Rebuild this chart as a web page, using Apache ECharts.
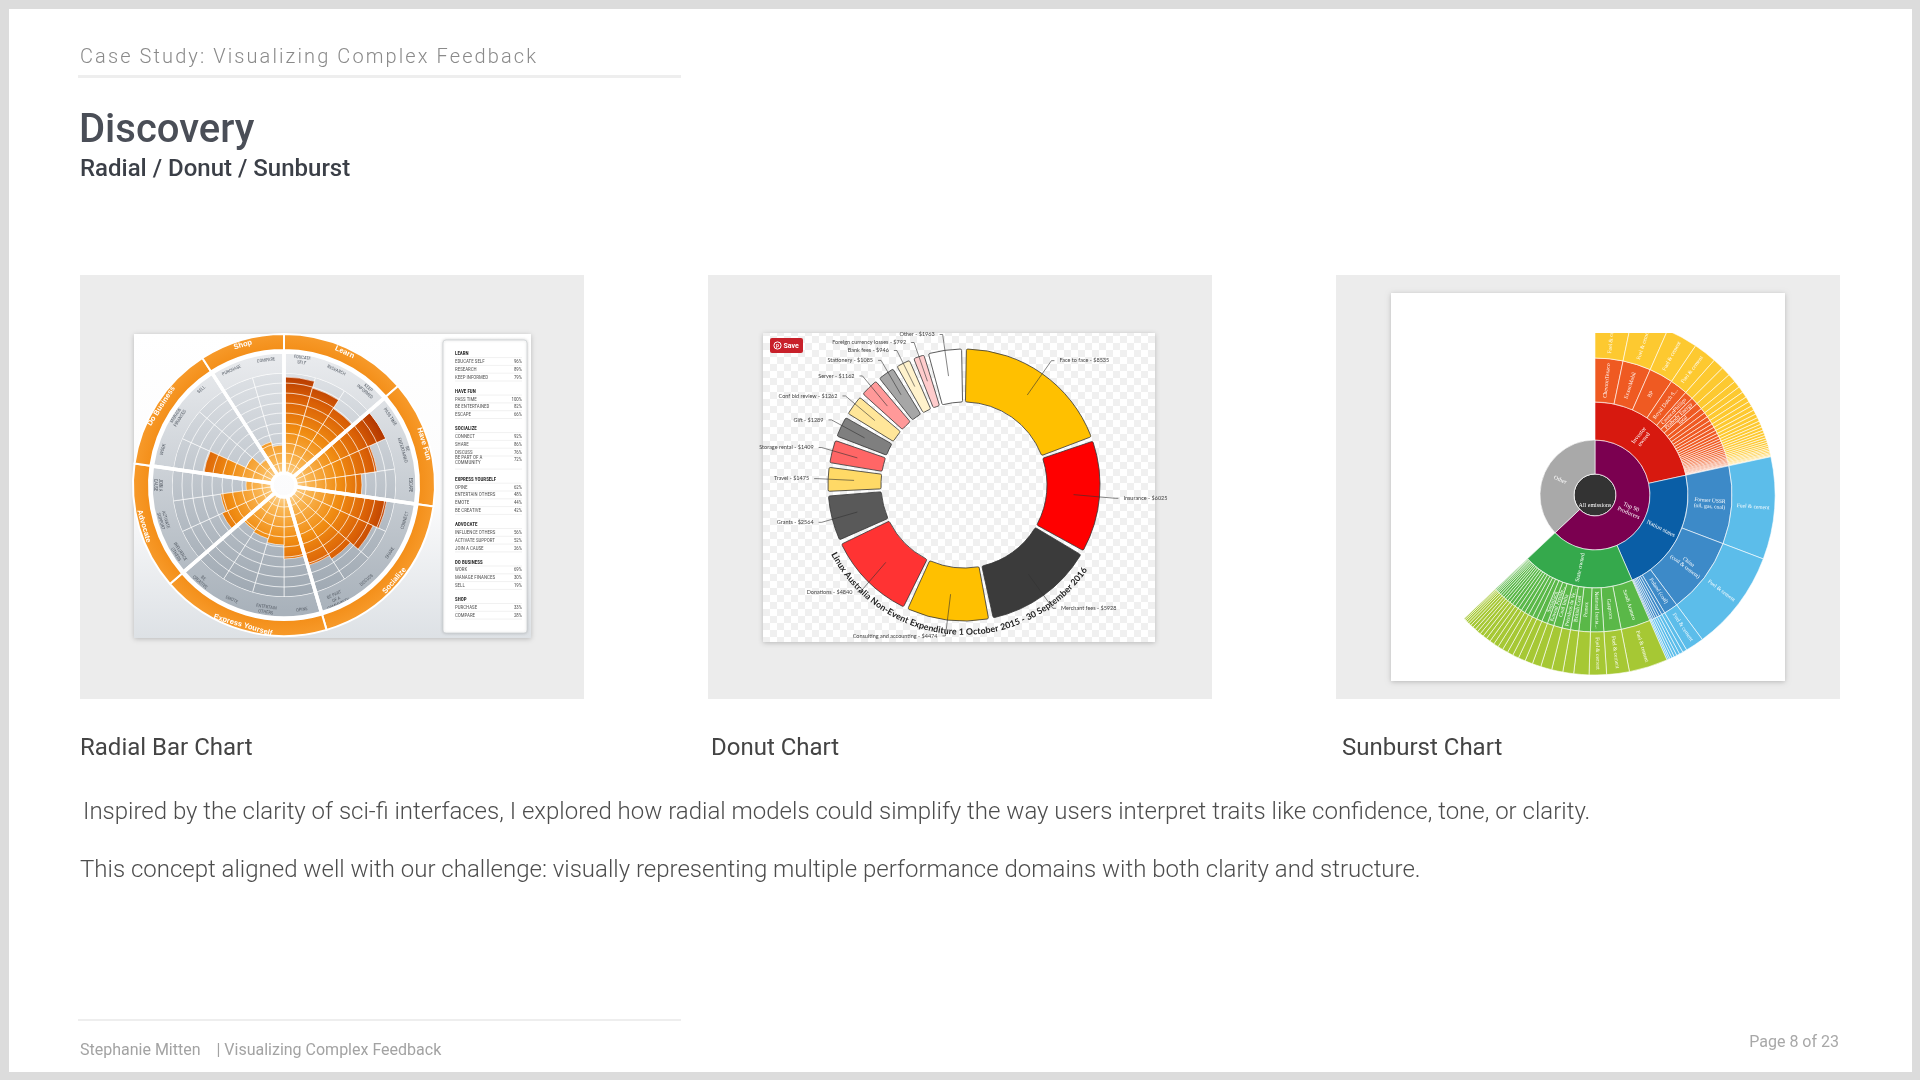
<!DOCTYPE html>
<html>
<head>
<meta charset="utf-8">
<title>Discovery - Radial / Donut / Sunburst</title>
<script src="https://cdn.jsdelivr.net/npm/echarts@6/dist/echarts.min.js"></script>
<style>
  html, body { margin: 0; padding: 0; width: 1920px; height: 1080px; background: #dcdcdc; overflow: hidden; font-family: Roboto, sans-serif; }
  #page { position: absolute; left: 9px; top: 9px; width: 1903px; height: 1063px; background: #fff; }
  #chart { position: absolute; left: 0; top: 0; width: 1920px; height: 1080px; }
  .t { position: absolute; white-space: nowrap; }
  .rule { position: absolute; background: #eeeeee; }
</style>
</head>
<body>
<div id="page"></div>
<div id="chart"></div>

<div class="t" style="left:80px; top:44px; font-size:20px; line-height:24px; font-weight:300; letter-spacing:2.1px; color:#8a8a8a;">Case Study: Visualizing Complex Feedback</div>
<div class="rule" style="left:78px; top:75px; width:603px; height:3px;"></div>
<div class="t" style="left:79px; top:105px; font-size:40px; line-height:48px; font-weight:500; color:#4a4e57;">Discovery</div>
<div class="t" style="left:80px; top:153px; font-size:24px; line-height:30px; font-weight:500; color:#3b3f47;">Radial / Donut / Sunburst</div>

<div class="t" style="left:80px; top:732px; font-size:24px; line-height:30px; color:#444;">Radial Bar Chart</div>
<div class="t" style="left:711px; top:732px; font-size:24px; line-height:30px; color:#444;">Donut Chart</div>
<div class="t" style="left:1342px; top:732px; font-size:24px; line-height:30px; color:#444;">Sunburst Chart</div>

<div class="t" style="left:83px; top:796px; font-size:24px; line-height:30px; font-weight:300; color:#4d4d4d;">Inspired by the clarity of sci-fi interfaces, I explored how radial models could simplify the way users interpret traits like confidence, tone, or clarity.</div>
<div class="t" style="left:80px; top:854px; font-size:24px; line-height:30px; font-weight:300; color:#4d4d4d;">This concept aligned well with our challenge: visually representing multiple performance domains with both clarity and structure.</div>

<div class="rule" style="left:78px; top:1019px; width:603px; height:2px;"></div>
<div class="t" style="left:80px; top:1040px; font-size:16px; line-height:20px; color:#a3a3a3;">Stephanie Mitten&nbsp;&nbsp;&nbsp; | Visualizing Complex Feedback</div>
<div class="t" style="right:81px; top:1032px; font-size:16px; line-height:20px; color:#a8a8a8;">Page 8 of 23</div>

<script type="text/javascript">

// radial bar chart (motivations wheel)
const groupNames = ['Learn', 'Have Fun', 'Socialize', 'Express Yourself', 'Advocate', 'Do Business', 'Shop'];
const groupSizes = [3, 3, 4, 4, 3, 3, 2];
const itemNames = ['EDUCATE SELF', 'RESEARCH', 'KEEP INFORMED', 'PASS TIME', 'BE ENTERTAINED', 'ESCAPE',
    'CONNECT', 'SHARE', 'DISCUSS', 'BE PART OF A\nCOMMUNITY', 'OPINE', 'ENTERTAIN OTHERS', 'EMOTE', 'BE CREATIVE',
    'INFLUENCE OTHERS', 'ACTIVATE SUPPORT', 'JOIN A CAUSE', 'WORK', 'MANAGE FINANCES', 'SELL', 'PURCHASE', 'COMPARE'];
const wheelLabels = ['EDUCATE\nSELF', 'RESEARCH', 'KEEP\nINFORMED', 'PASS TIME', 'BE\nENTERTAINED', 'ESCAPE',
    'CONNECT', 'SHARE', 'DISCUSS', 'BE PART\nOF A\nCOMMUNITY', 'OPINE', 'ENTERTAIN\nOTHERS', 'EMOTE', 'BE\nCREATIVE',
    'INFLUENCE\nOTHERS', 'ACTIVATE\nSUPPORT', 'JOIN A\nCAUSE', 'WORK', 'MANAGE\nFINANCES', 'SELL', 'PURCHASE', 'COMPARE'];
const itemValues = [96, 89, 79, 100, 82, 66, 92, 86, 76, 72, 62, 48, 44, 42, 56, 52, 26, 69, 30, 19, 33, 28];

// donut chart (expenditure)
const donutNames = ['Face to face', 'Insurance', 'Merchant fees', 'Consulting and accounting', 'Donations', 'Grants',
    'Travel', 'Storage rental', 'Gift', 'Conf bid review', 'Server', 'Stationery', 'Bank fees',
    'Foreign currency losses', 'Other'];
const donutValues = [8535, 6025, 5928, 4474, 4840, 2564, 1475, 1409, 1289, 1262, 1162, 1085, 946, 792, 1963];
const donutColors = ['#ffc000', '#ff0000', '#3b3b3b', '#ffc000', '#ff3333', '#595959', '#ffd966', '#ff6666',
    '#7f7f7f', '#ffe699', '#ff9999', '#a6a6a6', '#fff2cc', '#ffcccc', '#ffffff'];
const donutTitle = 'Linux Australia Non-Event Expenditure 1 October 2015 - 30 September 2016';

// sunburst (emissions by producer)
const investorNames = ['ChevronTexaco', 'ExxonMobil', 'BP', 'Royal Dutch Shell', 'ConocoPhillips', 'Peabody Energy',
    'Total', 'BHP Billiton', 'Consol Energy', 'Anglo American', 'Rio Tinto', 'Arch Coal', 'Occidental', 'Marathon',
    'Eni', 'Repsol', 'Sasol', 'Suncor', 'Hess', 'Devon', 'Apache', 'Anadarko', 'Lukoil', 'RWE', 'Murphy Oil',
    'Massey Energy', 'Alpha Natural', 'Glencore', 'Husky', 'Canadian Natural', 'Westmoreland', 'Cloud Peak',
    'Kiewit', 'Teck'];
const investorValues = [11.8, 11.9, 10.2, 7.5, 3.6, 3.0, 2.8, 2.2, 2.0, 1.9, 1.7, 1.6, 1.5, 1.4, 1.3, 1.2, 1.1,
    1.0, 1.0, 0.9, 0.9, 0.8, 0.8, 0.7, 0.7, 0.6, 0.6, 0.5, 0.5, 0.5, 0.4, 0.4, 0.3, 0.2];
const nationNames = ['Former USSR\n(oil, gas, coal)', 'China\n(coal & cement)', 'Poland (coal)', 'Russia (coal)',
    'Czechoslovakia (coal)', 'Kazakhstan (coal)', 'Ukraine (coal)', 'North Korea (coal)', 'Czech Republic (coal)',
    'Vietnam (coal)', 'Bulgaria (coal)'];
const nationValues = [33, 32.5, 6, 1.4, 1.2, 1.0, 0.9, 0.8, 0.7, 0.5, 0.5];
const stateNames = ['Saudi Aramco', 'Gazprom', 'National Iranian Oil', 'Pemex', 'British Coal',
    'Petroleos de Venezuela', 'Coal India', 'Kuwait Petroleum', 'Sonatrach', 'Abu Dhabi NOC', 'Rosneft', 'Iraq NOC',
    'Petrobras', 'Libya NOC', 'Nigerian NPC', 'Qatar Petroleum', 'Statoil', 'Petronas', 'Pertamina', 'ONGC',
    'Sinopec', 'CNPC', 'Ecopetrol', 'Egyptian GPC', 'Syrian Petroleum', 'Petroecuador', 'Sonangol', 'Socar'];
const stateValues = [12.5, 7.3, 5.6, 4.9, 3.5, 3.6, 3.6, 2.8, 2.5, 2.3, 2.0, 1.9, 1.8, 1.7, 1.6, 1.5, 1.4, 1.3,
    1.2, 1.1, 1.0, 1.0, 0.9, 0.8, 0.7, 0.6, 0.5, 0.4];
const otherValue = 133;

// ---------------------------------------------------------------

const wheelC = [284, 485];
const donutC = [964, 485];
const sunC = [1595, 495];

function branch(name, color, names, values, c3, c4) {
    return {
        name: name,
        itemStyle: { color: color },
        children: names.map((n, i) => ({
            name: n,
            value: values[i],
            itemStyle: { color: c3 },
            children: [{ name: 'Fuel & cement', value: values[i], itemStyle: { color: c4 } }]
        }))
    };
}

let sunData = [{
    name: 'All emissions',
    itemStyle: { color: '#333333' },
    children: [
        {
            name: 'Top 90\nProducers',
            itemStyle: { color: '#7b0050' },
            children: [
                branch('Investor\nowned', '#d7190f', investorNames, investorValues, '#ef5a22', '#fdc930'),
                branch('Nation states', '#0a5ea6', nationNames, nationValues, '#3d8ac8', '#5cbdea'),
                branch('State owned', '#35a94c', stateNames, stateValues, '#5ab848', '#a6c834')
            ]
        },
        { name: 'Other', value: otherValue, itemStyle: { color: '#a9a9a9' } }
    ]
}];

// checkerboard for the donut card
let pc = document.createElement('canvas');
pc.width = 14; pc.height = 14;
let pg = pc.getContext('2d');
pg.fillStyle = '#ffffff'; pg.fillRect(0, 0, 14, 14);
pg.fillStyle = '#f0f0f0'; pg.fillRect(0, 0, 7, 7); pg.fillRect(7, 7, 7, 7);

let shadow = { shadowBlur: 5, shadowColor: 'rgba(0,0,0,0.22)', shadowOffsetY: 1 };

let graphics = [];
// grey panels
[80, 708, 1336].forEach(x => {
    graphics.push({ type: 'rect', z: 0, shape: { x: x, y: 275, width: 504, height: 424 }, style: { fill: '#ececec' } });
});
// cards
graphics.push({ type: 'rect', z: 0, shape: { x: 134, y: 334, width: 397, height: 304 },
    style: Object.assign({ fill: new echarts.graphic.LinearGradient(0, 0, 0, 1, [
        { offset: 0, color: '#ffffff' }, { offset: 0.55, color: '#fbfbfc' }, { offset: 1, color: '#dde1e5' }]) }, shadow) });
graphics.push({ type: 'rect', z: 0, shape: { x: 763, y: 333, width: 392, height: 309 },
    style: Object.assign({ fill: { image: pc, repeat: 'repeat' } }, shadow) });
graphics.push({ type: 'rect', z: 0, shape: { x: 1391, y: 293, width: 394, height: 388 },
    style: Object.assign({ fill: '#ffffff' }, shadow) });

// legend table of the wheel
graphics.push({ type: 'rect', z: 1, shape: { x: 443, y: 340, width: 84, height: 293, r: 3 },
    style: { fill: '#ffffff', stroke: '#cfd3d6', lineWidth: 0.8, shadowBlur: 3, shadowColor: 'rgba(0,0,0,0.18)' } });
const legFont = '5px "Liberation Sans Narrow", "Roboto Condensed", "Liberation Sans", sans-serif';
let ly = 354;
let k = 0;
groupNames.forEach((g, gi) => {
    graphics.push({ type: 'text', z: 5, x: 455, y: ly,
        style: { text: g.toUpperCase(), font: 'bold ' + legFont, fill: '#2d2d2d', verticalAlign: 'middle' } });
    graphics.push({ type: 'line', z: 5, shape: { x1: 455, y1: ly + 3.6, x2: 522, y2: ly + 3.6 },
        style: { stroke: '#e2e2e2', lineWidth: 0.5 } });
    ly += 7.8;
    for (let j = 0; j < groupSizes[gi]; j++, k++) {
        const lines = itemNames[k].split('\n').length;
        graphics.push({ type: 'text', z: 5, x: 455, y: ly,
            style: { text: itemNames[k], font: legFont, fill: '#555', verticalAlign: 'middle', lineHeight: 5.3 } });
        graphics.push({ type: 'text', z: 5, x: 522, y: ly,
            style: { text: itemValues[k] + '%', font: legFont, fill: '#555', align: 'right', verticalAlign: 'middle' } });
        const extra = (lines - 1) * 5.3;
        graphics.push({ type: 'line', z: 5, shape: { x1: 455, y1: ly + 3.6 + extra, x2: 522, y2: ly + 3.6 + extra },
            style: { stroke: '#e2e2e2', lineWidth: 0.5 } });
        ly += 7.8 + extra;
    }
    ly += 6.3;
});

// Pinterest "Save" button on the donut card
graphics.push({ type: 'rect', z: 6, shape: { x: 770, y: 338, width: 33, height: 15, r: 2 }, style: { fill: '#c8202a' } });
graphics.push({ type: 'circle', z: 7, shape: { cx: 777.5, cy: 345.5, r: 3.6 }, style: { fill: 'none', stroke: '#fff', lineWidth: 1 } });
graphics.push({ type: 'text', z: 7, x: 777.5, y: 345.8, style: { text: 'p', font: 'bold 5px sans-serif', fill: '#fff', align: 'center', verticalAlign: 'middle' } });
graphics.push({ type: 'text', z: 7, x: 783.5, y: 345.8, style: { text: 'Save', font: 'bold 7px Roboto, sans-serif', fill: '#fff', verticalAlign: 'middle' } });

// curved title under the donut
let mctx = document.createElement('canvas').getContext('2d');
mctx.font = 'bold 10px Lato, sans-serif';
let chars = Array.from(donutTitle);
let w10 = chars.map(c => mctx.measureText(c).width);
let tot10 = w10.reduce((a, b) => a + b, 0);
const arcR = 147;
const titleSize = 10 * (arcR * 118 * Math.PI / 180) / tot10;
let run = 0;
const halfSpan = (tot10 * titleSize / 10) / 2 / arcR * 180 / Math.PI;
const startDeg = 183.5 + halfSpan;
chars.forEach((c, i) => {
    const w = w10[i] * titleSize / 10;
    const th = startDeg - (run + w / 2) / arcR * 180 / Math.PI;
    run += w;
    const rad = th * Math.PI / 180;
    graphics.push({ type: 'text', z: 8,
        x: donutC[0] + arcR * Math.sin(rad), y: donutC[1] - arcR * Math.cos(rad),
        rotation: -(th - 180) * Math.PI / 180,
        style: { text: c, font: 'bold ' + titleSize.toFixed(2) + 'px Lato, sans-serif', fill: '#222',
            align: 'center', verticalAlign: 'middle' } });
});

// the sunburst image is cropped flat along its top edge
graphics.push({ type: 'rect', z: 100, shape: { x: 1560, y: 295, width: 222, height: 38 }, style: { fill: '#ffffff' } });

// ---------------------------------------------------------------

let chart = echarts.init(document.getElementById('chart'));

const groupData = groupNames.map((g, i) => ({ name: g, value: groupSizes[i] }));

chart.setOption({
    animation: false,
    backgroundColor: 'transparent',
    graphic: { elements: graphics },
    polar: { center: wheelC, radius: [12, 112] },
    angleAxis: {
        type: 'category',
        data: itemNames,
        startAngle: 90,
        clockwise: true,
        boundaryGap: true,
        axisLine: { show: false },
        axisTick: { show: false },
        axisLabel: { show: false },
        splitLine: { show: false }
    },
    radiusAxis: {
        type: 'value',
        min: 0,
        max: 100,
        interval: 10,
        z: 9,
        axisLine: { show: false },
        axisTick: { show: false },
        axisLabel: { show: false },
        splitLine: { show: true, lineStyle: { color: 'rgba(255,255,255,0.9)', width: 0.8 } }
    },
    series: [
        {
            type: 'bar',
            coordinateSystem: 'polar',
            data: itemValues,
            barCategoryGap: '0%',
            showBackground: true,
            backgroundStyle: {
                color: new echarts.graphic.LinearGradient(0, 360, 0, 610, [
                    { offset: 0, color: '#e1e4e8' }, { offset: 1, color: '#9ba5af' }], true),
                borderColor: '#ffffff',
                borderWidth: 0.6
            },
            itemStyle: {
                color: new echarts.graphic.RadialGradient(wheelC[0], wheelC[1], 112, [
                    { offset: 0, color: '#fde6bd' },
                    { offset: 0.22, color: '#f9b552' },
                    { offset: 0.5, color: '#f08c12' },
                    { offset: 0.78, color: '#d95f06' },
                    { offset: 1, color: '#b23600' }], true),
                borderColor: '#ffffff',
                borderWidth: 0.6
            },
            silent: true
        },
        {
            // label band of the wheel
            type: 'pie',
            center: wheelC,
            radius: [112, 133],
            z: 11,
            silent: true,
            label: { show: false },
            labelLine: { show: false },
            itemStyle: {
                color: new echarts.graphic.LinearGradient(0, 360, 0, 610, [
                    { offset: 0, color: '#e8eaed' }, { offset: 1, color: '#a9b2bb' }], true)
            },
            data: groupData
        },
        {
            // white separators between the groups
            type: 'pie',
            center: wheelC,
            radius: [12, 133],
            z: 13,
            silent: true,
            label: { show: false },
            labelLine: { show: false },
            itemStyle: { color: 'rgba(0,0,0,0)', borderColor: '#ffffff', borderWidth: 3.5 },
            data: groupData
        },
        {
            type: 'pie',
            center: wheelC,
            radius: [112, 134],
            z: 12,
            silent: true,
            itemStyle: { color: 'rgba(0,0,0,0)' },
            labelLine: { show: false },
            label: {
                show: true,
                position: 'inside',
                rotate: 'tangential',
                formatter: '{b}',
                fontSize: 4.6,
                lineHeight: 5.2,
                color: '#5c636c',
                fontFamily: '"Liberation Sans Narrow", "Roboto Condensed", "Liberation Sans", sans-serif'
            },
            data: wheelLabels.map(n => ({ name: n, value: 1 }))
        },
        {
            // outer orange ring with group names
            type: 'pie',
            center: wheelC,
            radius: [135, 151],
            z: 12,
            silent: true,
            itemStyle: {
                color: new echarts.graphic.RadialGradient(wheelC[0], wheelC[1], 151, [
                    { offset: 0.85, color: '#f28a12' }, { offset: 1, color: '#f79a2a' }], true),
                borderColor: '#ffffff',
                borderWidth: 2
            },
            labelLine: { show: false },
            label: {
                show: true,
                position: 'inside',
                rotate: 'tangential',
                formatter: '{b}',
                fontSize: 7.5,
                fontWeight: 'bold',
                color: '#ffffff',
                fontFamily: '"Liberation Sans", Arial, sans-serif'
            },
            data: groupData
        },
        {
            // donut ring
            type: 'pie',
            center: donutC,
            radius: [83, 136],
            padAngle: 2,
            z: 3,
            silent: true,
            label: { show: false },
            labelLine: { show: false },
            itemStyle: { borderColor: '#333333', borderWidth: 0.8, borderRadius: 1.5 },
            data: donutNames.map((n, i) => ({ name: n, value: donutValues[i], itemStyle: { color: donutColors[i] } }))
        },
        {
            // leader lines + labels of the donut, starting inside the ring
            type: 'pie',
            center: donutC,
            radius: [0, 110],
            z: 4,
            silent: true,
            padAngle: 2,
            itemStyle: { color: 'rgba(0,0,0,0)' },
            label: {
                show: true,
                formatter: p => p.name + ' - $' + p.value,
                fontSize: 5.5,
                color: '#444',
                fontFamily: 'Lato, sans-serif'
            },
            labelLine: { show: true, length: 42, length2: 3, lineStyle: { color: '#333', width: 0.6 } },
            data: donutNames.map((n, i) => ({ name: n, value: donutValues[i] }))
        },
        {
            type: 'sunburst',
            center: sunC,
            radius: [0, 180],
            sort: null,
            nodeClick: false,
            silent: true,
            emphasis: { disabled: true },
            itemStyle: { borderColor: '#ffffff', borderWidth: 0.6 },
            label: { color: '#ffffff', fontFamily: '"Liberation Serif", "DejaVu Serif", serif', fontSize: 5.5 },
            levels: [
                {},
                { r0: 0, r: 21, label: { rotate: 0, fontSize: 6 }, itemStyle: { borderWidth: 1 } },
                { r0: 21, r: 55, label: { rotate: 'radial', fontSize: 6, lineHeight: 6.5 } },
                { r0: 55, r: 93, label: { rotate: 'radial', fontSize: 6, lineHeight: 6.5 } },
                { r0: 93, r: 137, label: { rotate: 'radial', fontSize: 5.5, minAngle: 2.4, width: 40, overflow: 'truncate', lineHeight: 6 } },
                { r0: 137, r: 180, label: { rotate: 'radial', fontSize: 5.5, minAngle: 5 } }
            ],
            data: sunData
        }
    ]
});
</script>
</body>
</html>
